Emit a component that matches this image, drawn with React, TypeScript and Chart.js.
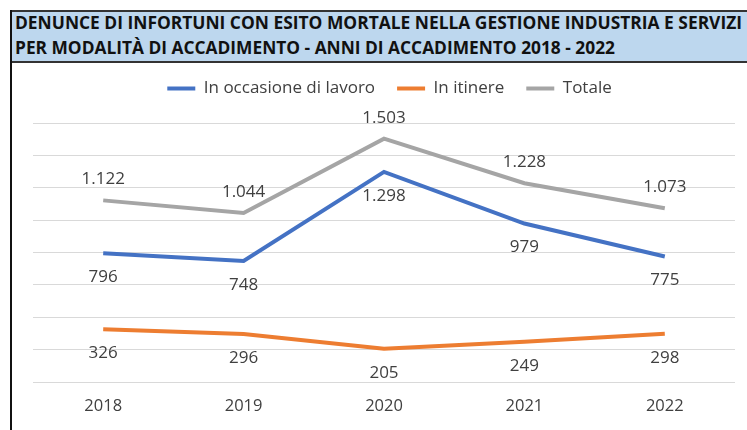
import React, { useEffect, useLayoutEffect, useRef } from "react";
import { Chart, registerables } from "chart.js";

Chart.register(...registerables);

const years = ["2018", "2019", "2020", "2021", "2022"];
const lavoro = [796, 748, 1298, 979, 775];
const itinere = [326, 296, 205, 249, 298];
const totale = [1122, 1044, 1503, 1228, 1073];
const seriesNames = ["In occasione di lavoro", "In itinere", "Totale"];
const seriesColors = ["#4472C4", "#ED7D31", "#A5A5A5"];
const labelAbove = [false, false, true];
const titleLines = [
  "DENUNCE DI INFORTUNI CON ESITO MORTALE NELLA GESTIONE INDUSTRIA E SERVIZI",
  "PER MODALITÀ DI ACCADIMENTO - ANNI DI ACCADIMENTO 2018 - 2022",
];
const titleWidths = [727, 600];
const yMax = 1600;
const yStep = 200;

const fmt = (v: number) => String(v).replace(/\B(?=(\d{3})+(?!\d))/g, ".");

const valueLabels = {
  id: "valueLabels",
  afterDatasetsDraw(chart: any) {
    const ctx = chart.ctx;
    ctx.save();
    ctx.font = "17px 'Open Sans'";
    ctx.fillStyle = "#404040";
    ctx.textAlign = "center";
    ctx.textBaseline = "middle";
    chart.data.datasets.forEach((ds: any, i: number) => {
      const meta = chart.getDatasetMeta(i);
      meta.data.forEach((pt: any, j: number) => {
        const v = ds.data[j] as number;
        ctx.fillText(fmt(v), pt.x, pt.y + (labelAbove[i] ? -21 : 24));
      });
    });
    ctx.restore();
  },
};

const legendTweak = {
  id: "legendTweak",
  beforeInit(chart: any) {
    const legend = chart.legend;
    if (!legend) return;
    const origFit = legend.fit;
    legend.fit = function () {
      origFit.call(this);
      this.height += 16;
    };
    const origDraw = legend.draw;
    legend.draw = function (...args: any[]) {
      const ctx = this.ctx;
      ctx.save();
      ctx.translate(22, 0);
      origDraw.apply(this, args);
      ctx.restore();
    };
  },
};

export default function App() {
  const canvasRef = useRef<HTMLCanvasElement | null>(null);
  const lineRefs = useRef<(HTMLSpanElement | null)[]>([]);

  useLayoutEffect(() => {
    lineRefs.current.forEach((el, i) => {
      if (!el) return;
      el.style.transform = "none";
      const w = el.getBoundingClientRect().width;
      if (w > 0) el.style.transform = `scaleX(${titleWidths[i] / w})`;
    });
  }, []);

  useEffect(() => {
    if (!canvasRef.current) return;
    Chart.defaults.font.family = "'Open Sans', sans-serif";
    const chart = new Chart(canvasRef.current, {
      type: "line",
      data: {
        labels: years,
        datasets: [lavoro, itinere, totale].map((d, i) => ({
          label: seriesNames[i],
          data: d,
          borderColor: seriesColors[i],
          backgroundColor: seriesColors[i],
          borderWidth: 4,
          pointRadius: 0,
          tension: 0,
        })),
      },
      options: {
        animation: false,
        responsive: false,
        maintainAspectRatio: false,
        layout: { padding: { top: 0, right: 12, left: 0, bottom: 0 } },
        plugins: {
          tooltip: { enabled: false },
          legend: {
            position: "top",
            labels: {
              boxWidth: 28,
              boxHeight: 4,
              padding: 22,
              color: "#404040",
              font: { size: 17 },
              generateLabels(chart: any) {
                return chart.data.datasets.map((ds: any, i: number) => ({
                  text: ds.label,
                  fillStyle: ds.borderColor,
                  strokeStyle: ds.borderColor,
                  lineWidth: 0,
                  hidden: false,
                  datasetIndex: i,
                  fontColor: "#404040",
                }));
              },
            },
          },
        },
        scales: {
          x: {
            offset: true,
            grid: { display: false, drawTicks: false },
            border: { display: false },
            ticks: { color: "#404040", font: { size: 16.5 }, padding: 14 },
            afterFit(scale: any) {
              scale.height = 48;
            },
          },
          y: {
            min: 0,
            max: yMax,
            ticks: { stepSize: yStep, display: false },
            grid: { color: "#d9d9d9", lineWidth: 1, drawTicks: false },
            border: { display: false },
            afterFit(scale: any) {
              scale.width = 33;
            },
          },
        },
      },
      plugins: [valueLabels, legendTweak],
    } as any);
    return () => chart.destroy();
  }, []);

  return (
    <div
      style={{
        position: "absolute",
        left: 0,
        top: 0,
        width: 747,
        height: 430,
        background: "#ffffff",
        overflow: "hidden",
      }}
    >
      <div
        style={{
          position: "absolute",
          left: 10,
          top: 10,
          width: 760,
          height: 53,
          background: "#BDD7EE",
          borderTop: "2px solid #333",
          borderBottom: "2px solid #333",
          boxSizing: "border-box",
        }}
      />
      <div
        style={{
          position: "absolute",
          left: 10,
          top: 10,
          width: 2,
          height: 420,
          background: "#111",
        }}
      />
      {titleLines.map((t, i) => (
        <span
          key={i}
          ref={(el) => {
            lineRefs.current[i] = el;
          }}
          style={{
            position: "absolute",
            left: 15,
            top: i === 0 ? 13 : 38,
            fontFamily: "'Open Sans', sans-serif",
            fontWeight: 700,
            fontSize: 18,
            lineHeight: 1,
            color: "#111",
            whiteSpace: "nowrap",
            transformOrigin: "0 0",
            display: "inline-block",
          }}
        >
          {t}
        </span>
      ))}
      <canvas
        ref={canvasRef}
        width={747}
        height={372}
        style={{ position: "absolute", left: 0, top: 58, width: 747, height: 372 }}
      />
    </div>
  );
}
